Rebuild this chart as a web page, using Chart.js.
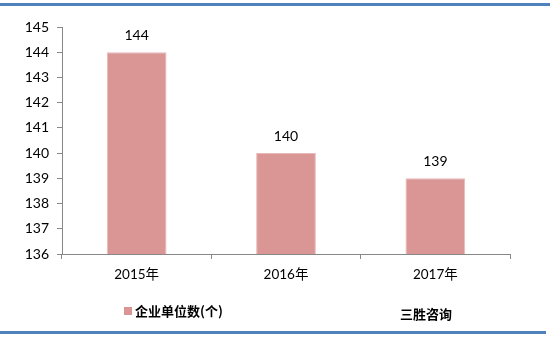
<!DOCTYPE html>
<html>
<head>
<meta charset="utf-8">
<script src="https://cdn.jsdelivr.net/npm/chart.js@4/dist/chart.umd.min.js"></script>
<style>
  html, body { margin: 0; padding: 0; background: #fff; }
  #wrap { position: relative; width: 550px; height: 337px; }
  #c { position: absolute; left: 0; top: 0; }
  .rule { position: absolute; left: 0; height: 3px; background: #4f81bd; }
  .legend { position: absolute; font-family: "Noto Sans CJK SC", sans-serif; font-weight: bold; font-size: 13px; color: #000; }
  .swatch { display: inline-block; width: 8px; height: 8px; background: #d99694; margin-right: 3px; vertical-align: 1px; }
</style>
</head>
<body>
<div id="wrap">
  <canvas id="c" width="550" height="337"></canvas>
  <div class="rule" style="top:3px; width:550px;"></div>
  <div class="rule" style="top:331px; width:546px;"></div>
  <div class="legend" id="series-legend" style="left:124px; top:301px;"><span class="swatch"></span><span id="series-name"></span></div>
  <div class="legend" id="source" style="left:400px; top:304px;"></div>
</div>
<script>
// Enterprise counts per year
const categories = ['2015年', '2016年', '2017年'];
const unitCounts = [144, 140, 139];
const seriesName = '企业单位数(个)';
const sourceName = '三胜咨询';
const yTicks = [136, 137, 138, 139, 140, 141, 142, 143, 144, 145];

document.getElementById('series-name').textContent = seriesName;
document.getElementById('source').textContent = sourceName;

const FONT = 'Lato, "Noto Sans CJK SC", sans-serif';

// Value labels drawn above each bar
const valueLabels = {
  id: 'valueLabels',
  afterDatasetsDraw(chart) {
    const ctx = chart.ctx;
    const meta = chart.getDatasetMeta(0);
    ctx.save();
    ctx.font = '14px ' + FONT;
    ctx.fillStyle = '#000';
    ctx.textAlign = 'center';
    ctx.textBaseline = 'bottom';
    meta.data.forEach((bar, i) => {
      ctx.fillText(String(chart.data.datasets[0].data[i]), bar.x, bar.y - 10);
    });
    ctx.restore();
  }
};

new Chart(document.getElementById('c'), {
  type: 'bar',
  data: {
    labels: categories,
    datasets: [{
      label: seriesName,
      data: unitCounts,
      backgroundColor: '#d99694',
      borderColor: '#e6b9b8',
      borderWidth: 1,
      categoryPercentage: 1,
      barPercentage: 0.4
    }]
  },
  options: {
    responsive: false,
    animation: false,
    layout: { padding: { left: 0, right: 40, top: 27, bottom: 0 } },
    plugins: { legend: { display: false }, tooltip: { enabled: false } },
    scales: {
      x: {
        offset: true,
        grid: { offset: true, drawOnChartArea: false, drawTicks: true, tickLength: 5, color: '#888' },
        border: { color: '#888' },
        ticks: { font: { family: FONT, size: 13.5 }, color: '#000', padding: 8 },
        afterFit(scale) { scale.height = 83; }
      },
      y: {
        min: 136,
        max: 145,
        afterBuildTicks(scale) { scale.ticks = yTicks.map(v => ({ value: v })); },
        grid: { drawOnChartArea: false, drawTicks: true, tickLength: 5, color: '#888' },
        border: { color: '#888' },
        ticks: { font: { family: FONT, size: 14 }, color: '#000', padding: 8 },
        afterFit(scale) { scale.width = 62; }
      }
    }
  },
  plugins: [valueLabels]
});
</script>
</body>
</html>
